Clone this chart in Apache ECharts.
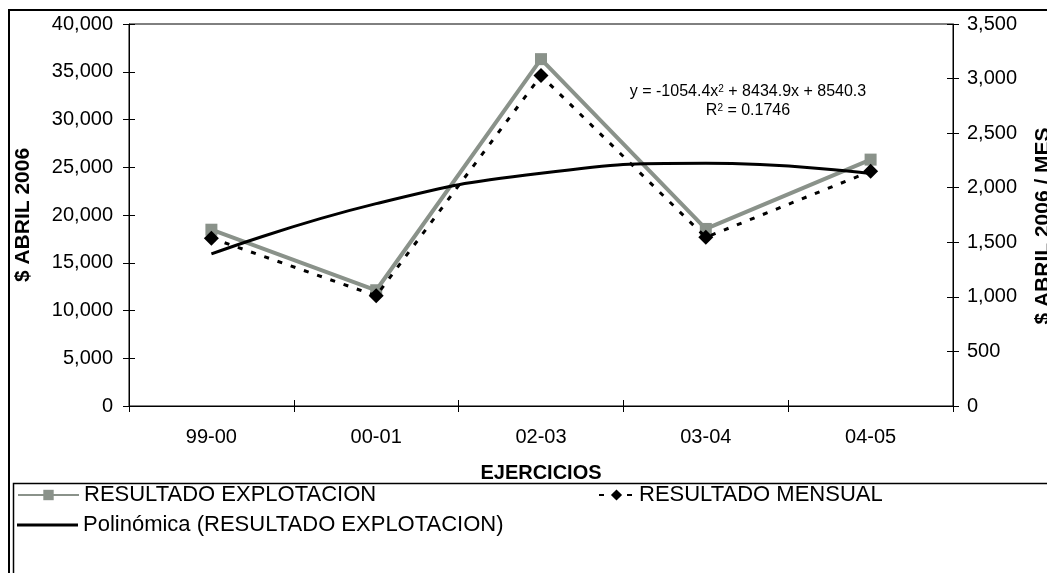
<!DOCTYPE html>
<html><head><meta charset="utf-8">
<script src="https://cdn.jsdelivr.net/npm/echarts@6/dist/echarts.min.js"></script>
<style>html,body{margin:0;padding:0;background:#fff}#c{width:1047px;height:573px}</style>
</head><body><div id="c"></div>
<script>
const categories = ['99-00', '00-01', '02-03', '03-04', '04-05'];
const explotacion = [18460, 12120, 36320, 18540, 25800];
const mensual = [1538, 1010, 3027, 1545, 2150];
const tendencia = [15920, 21190, 24360, 25410, 24350];
const leftAxisRange = [0, 40000, 5000];
const rightAxisRange = [0, 3500, 500];
const seriesNames = ['RESULTADO EXPLOTACION', 'RESULTADO MENSUAL', 'Polinómica (RESULTADO EXPLOTACION)'];
const axisTitles = ['$ ABRIL 2006', '$ ABRIL 2006 / MES', 'EJERCICIOS'];
const equationLines = ['y = -1054.4x{s|2} + 8434.9x + 8540.3', 'R{s|2} = 0.1746'];

const FF = '"Liberation Sans", Arial, sans-serif';
const GRAY = '#8a928a';
const fmt = v => Number(v).toLocaleString('en-US');

const chart = echarts.init(document.getElementById('c'), null, {renderer: 'canvas'});

function valueAxis(pos, range, main, margin) {
  return {
    type: 'value', position: pos, min: range[0], max: range[1], interval: range[2],
    axisLine: {show: main, lineStyle: {color: '#000', width: 1}},
    axisTick: {show: true, inside: !main, length: 6, lineStyle: {color: '#000'}},
    axisLabel: {show: main, color: '#000', fontSize: 20, fontFamily: FF, margin: margin, formatter: fmt},
    splitLine: {show: false}
  };
}

const option = {
  animation: false,
  backgroundColor: '#fff',
  grid: {left: 129, right: 94, top: 24, bottom: 167, show: true, borderColor: '#000', borderWidth: 1, backgroundColor: 'transparent'},
  xAxis: [
    {type: 'category', data: categories, position: 'bottom', boundaryGap: true,
     axisLine: {lineStyle: {color: '#000'}},
     axisTick: {show: true, length: 6, lineStyle: {color: '#000'}},
     axisLabel: {color: '#000', fontSize: 20, fontFamily: FF, margin: 21},
     splitLine: {show: false}},
    {type: 'category', data: categories, position: 'bottom', boundaryGap: true,
     axisLine: {show: false},
     axisTick: {show: true, inside: true, length: 6, lineStyle: {color: '#000'}},
     axisLabel: {show: false}, splitLine: {show: false}}
  ],
  yAxis: [
    valueAxis('left', leftAxisRange, true, 16),
    valueAxis('right', rightAxisRange, true, 14),
    valueAxis('left', leftAxisRange, false, 8),
    valueAxis('right', rightAxisRange, false, 8)
  ],
  legend: [
    {data: [seriesNames[0]], left: 17, top: 484, padding: 0, itemWidth: 61, itemHeight: 13, selectedMode: false,
     textStyle: {fontSize: 22, color: '#000', fontFamily: FF}},
    {data: [seriesNames[1]], left: 598, top: 484, padding: 0, itemWidth: 35, itemHeight: 14, selectedMode: false,
     textStyle: {fontSize: 22, color: '#000', fontFamily: FF}},
    {data: [{name: seriesNames[2], icon: 'rect'}], left: 17, top: 514, padding: 0, itemWidth: 61, itemHeight: 3, selectedMode: false,
     itemStyle: {color: '#000'},
     textStyle: {fontSize: 22, color: '#000', fontFamily: FF}}
  ],
  series: [
    {name: seriesNames[0], type: 'line', xAxisIndex: 0, yAxisIndex: 0, data: explotacion,
     symbol: 'rect', symbolSize: 12, lineStyle: {color: GRAY, width: 4}, itemStyle: {color: GRAY}, z: 2},
    {name: seriesNames[2], type: 'line', xAxisIndex: 0, yAxisIndex: 0, data: tendencia,
     smooth: 0.5, symbol: 'none', lineStyle: {color: '#000', width: 3}, itemStyle: {color: '#000'}, z: 3},
    {name: seriesNames[1], type: 'line', xAxisIndex: 0, yAxisIndex: 1, data: mensual,
     symbol: 'diamond', symbolSize: 15, lineStyle: {color: '#000', width: 3, type: [5, 9]}, itemStyle: {color: '#000'}, z: 4}
  ],
  graphic: [
    {type: 'rect', silent: true, shape: {x: 9, y: 10, width: 1200, height: 800}, style: {fill: 'none', stroke: '#000', lineWidth: 2}},
    {type: 'rect', silent: true, shape: {x: 13.5, y: 483.5, width: 1200, height: 300}, style: {fill: 'none', stroke: '#000', lineWidth: 1.5}},
    {type: 'text', silent: true, x: 23, y: 215, rotation: Math.PI / 2,
     style: {text: axisTitles[0], font: 'bold 21px ' + FF, fill: '#000', align: 'center', verticalAlign: 'middle'}},
    {type: 'text', silent: true, x: 1043, y: 226, rotation: Math.PI / 2,
     style: {text: axisTitles[1], font: 'bold 21px ' + FF, fill: '#000', align: 'center', verticalAlign: 'middle'}},
    {type: 'text', silent: true, x: 541, y: 473,
     style: {text: axisTitles[2], font: 'bold 20px ' + FF, fill: '#000', align: 'center', verticalAlign: 'middle'}},
    {type: 'text', silent: true, x: 748, y: 92,
     style: {text: equationLines[0], font: '16px ' + FF, fill: '#000', align: 'center', verticalAlign: 'middle',
       rich: {s: {fontSize: 10, verticalAlign: 'top', fontFamily: FF, fill: '#000'}}}},
    {type: 'text', silent: true, x: 748, y: 111,
     style: {text: equationLines[1], font: '16px ' + FF, fill: '#000', align: 'center', verticalAlign: 'middle',
       rich: {s: {fontSize: 10, verticalAlign: 'top', fontFamily: FF, fill: '#000'}}}}
  ]
};
chart.setOption(option);
</script>
</body></html>
